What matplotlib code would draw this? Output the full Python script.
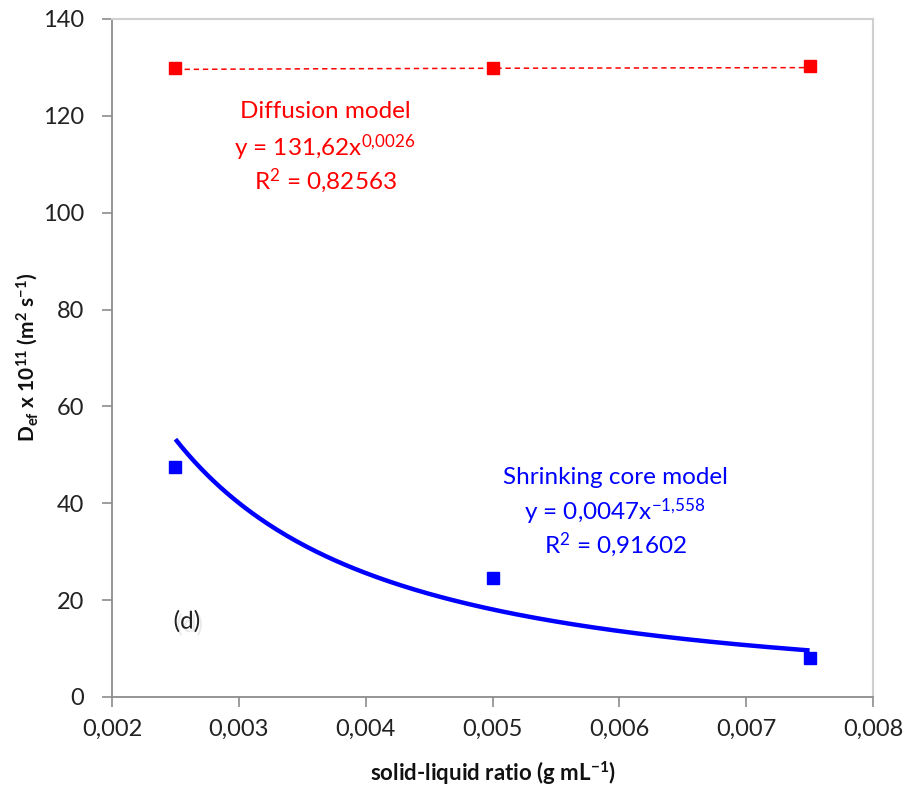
import numpy as np
import matplotlib
matplotlib.use("Agg")
import matplotlib.pyplot as plt
from matplotlib.ticker import FuncFormatter, MultipleLocator
import matplotlib.patheffects as pe

plt.rcParams['font.family'] = ['Lato', 'DejaVu Sans']
plt.rcParams['mathtext.fontset'] = 'custom'
plt.rcParams['mathtext.rm'] = 'Lato'
plt.rcParams['mathtext.it'] = 'Lato:italic'
plt.rcParams['mathtext.bf'] = 'Lato:bold'

# Solid-liquid ratio (g/mL)
ratio = [0.0025, 0.005, 0.0075]
# Effective diffusivity x 1e11 (m2/s)
diffusion = [129.8, 129.8, 130.3]
shrinking = [47.5, 24.5, 8.0]

# Power-law fits y = a * x^b
diff_fit = (131.62, 0.0026)
core_fit = (0.0047, -1.558)

gray = '#8c8c8c'
red = '#ff0000'
blue = '#0000ff'

fig = plt.figure(figsize=(9.07, 7.87), dpi=100)
ax = fig.add_axes([0.1235, 0.1144, 0.8390, 0.8615])

xs = np.linspace(ratio[0], ratio[-1], 200)
ax.plot(xs, diff_fit[0] * xs ** diff_fit[1], color=red, lw=1.1,
        linestyle=(0, (3.5, 2.5)), zorder=2)
ax.plot(xs, core_fit[0] * xs ** core_fit[1], color=blue, lw=3.2,
        solid_capstyle='butt', zorder=2)
ax.plot(ratio, diffusion, 's', color=red, ms=9, zorder=3)
ax.plot(ratio, shrinking, 's', color=blue, ms=9, zorder=3)

ax.set_xlim(0.002, 0.008)
ax.set_ylim(0, 140)
ax.xaxis.set_major_locator(MultipleLocator(0.001))
ax.yaxis.set_major_locator(MultipleLocator(20))
ax.xaxis.set_major_formatter(FuncFormatter(lambda v, p: f"{v:.3f}".replace('.', ',')))
ax.yaxis.set_major_formatter(FuncFormatter(lambda v, p: f"{v:.0f}"))
ax.tick_params(axis='both', direction='out', length=7, width=1.2, color=gray,
               labelsize=17, labelcolor='#222222')
ax.tick_params(axis='y', pad=13)
ax.tick_params(axis='x', pad=9)

for side in ('left', 'bottom'):
    ax.spines[side].set_color(gray)
    ax.spines[side].set_linewidth(1.3)
for side in ('top', 'right'):
    ax.spines[side].set_color('#d0d0d0')
    ax.spines[side].set_linewidth(1.5)

ax.set_xlabel(r"solid-liquid ratio (g mL$^{\mathbf{-1}}$)", fontsize=16,
              fontweight='bold', labelpad=14, color='#111111')
ax.set_ylabel(r"D$_{\mathbf{ef}}$ x 10$^{\mathbf{11}}$ (m$^{\mathbf{2}}$ s$^{\mathbf{-1}}$)",
              fontsize=15, fontweight='bold', color='#111111')
ax.yaxis.set_label_coords(-0.104, 0.5, transform=None)
ax.yaxis.label.set_transform(fig.transFigure)
ax.yaxis.label.set_position((27 / 907, 0.5 * (0.1144 * 2 + 0.8615)))
ax.yaxis.label.set_va('center')

fs = 17.5
ax.text(0.003679, 120.8, "Diffusion model", color=red, fontsize=fs, ha='center', va='center')
ax.text(0.003679, 113.5, r"y = 131,62x$^{0{,}0026}$", color=red, fontsize=fs, ha='center', va='center')
ax.text(0.003679, 106.7, r"R$^{2}$ = 0,82563", color=red, fontsize=fs, ha='center', va='center')

ax.text(0.005967, 45.3, "Shrinking core model", color=blue, fontsize=fs, ha='center', va='center')
ax.text(0.005967, 38.3, r"y = 0,0047x$^{-1{,}558}$", color=blue, fontsize=fs, ha='center', va='center')
ax.text(0.005967, 31.5, r"R$^{2}$ = 0,91602", color=blue, fontsize=fs, ha='center', va='center')

ax.text(0.00259, 15.5, "(d)", color='#222222', fontsize=17.5, ha='center', va='center',
        path_effects=[pe.withSimplePatchShadow(offset=(2, -2.5), shadow_rgbFace='#aaaaaa', alpha=0.25)])

fig.savefig("out.png", dpi=100)
